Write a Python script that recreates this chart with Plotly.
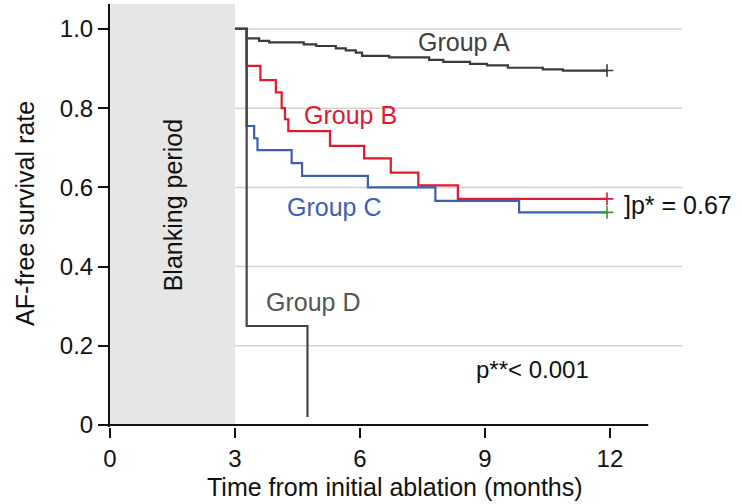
import plotly.graph_objects as go

# ---- data ----
x_ticks = [0, 3, 6, 9, 12]
y_ticks = [0, 0.2, 0.4, 0.6, 0.8, 1.0]
y_tick_text = ["0", "0.2", "0.4", "0.6", "0.8", "1.0"]
grid_vals = [0.2, 0.4, 0.6, 0.8, 1.0]

blank_start = 0
blank_end = 3

a_t = [3.0, 3.28, 3.58, 3.82, 4.65, 4.95, 5.42, 5.66, 5.90, 6.05, 6.70, 7.66, 8.00, 8.64, 9.05, 9.55, 10.39, 10.87, 11.93]
a_s = [1.0, 0.976, 0.970, 0.966, 0.961, 0.957, 0.951, 0.946, 0.940, 0.932, 0.928, 0.922, 0.917, 0.912, 0.908, 0.902, 0.898, 0.895, 0.895]

b_t = [3.0, 3.28, 3.61, 3.98, 4.12, 4.20, 4.28, 5.28, 6.10, 6.74, 7.40, 8.35, 11.93]
b_s = [1.0, 0.907, 0.871, 0.840, 0.800, 0.772, 0.742, 0.705, 0.673, 0.637, 0.605, 0.571, 0.571]

c_t = [3.0, 3.28, 3.46, 3.54, 4.36, 4.61, 6.19, 7.81, 9.82, 11.93]
c_s = [1.0, 0.755, 0.724, 0.694, 0.661, 0.629, 0.600, 0.566, 0.537, 0.537]

d_t = [3.0, 3.28, 4.74]
d_s = [1.0, 0.25, 0.02]

groups = ["Group A", "Group B", "Group C", "Group D"]
colors = ["#3a3a3a", "#e2182d", "#3d5fb3", "#444444"]
label_colors = ["#404040", "#e2182d", "#3d5fb3", "#555555"]
label_pos = [(7.35, 0.967), (4.60, 0.783), (4.20, 0.551), (3.70, 0.311)]
censor_colors = ["#3a3a3a", "#e2182d", "#2e9a3a"]

X_MAX = 13.73
X_AXIS_END = 12.92
Y_MIN, Y_MAX = -0.005, 1.063

FONT = "Liberation Sans, Arial, sans-serif"

fig = go.Figure()

series = [(a_t, a_s), (b_t, b_s), (c_t, c_s), (d_t, d_s)]
for (t, s), name, col in zip(series, groups, colors):
    fig.add_trace(go.Scatter(x=t, y=s, mode="lines", line=dict(color=col, width=2.2, shape="hv"),
                             name=name, showlegend=False, hoverinfo="skip"))

# censor marks at end of A, B, C
for (t, s), col in zip(series[:3], censor_colors):
    fig.add_trace(go.Scatter(x=[t[-1]], y=[s[-1]], mode="markers",
                             marker=dict(symbol="cross-thin", size=9, line=dict(color=col, width=1.6)),
                             showlegend=False, hoverinfo="skip"))

shapes = []
# blanking period box
shapes.append(dict(type="rect", xref="x", yref="y", x0=blank_start, x1=blank_end, y0=0, y1=Y_MAX,
                   fillcolor="#e6e6e6", line=dict(width=0), layer="below"))
# gridlines
for g in grid_vals:
    shapes.append(dict(type="line", xref="x", yref="y", x0=blank_end, x1=X_MAX, y0=g, y1=g,
                       line=dict(color="#d2d2d2", width=1.5), layer="below"))
# x axis line
shapes.append(dict(type="line", xref="x", yref="y", x0=0, x1=X_AXIS_END, y0=0, y1=0,
                   line=dict(color="#111111", width=2)))

annotations = []
for name, (lx, ly), col in zip(groups, label_pos, label_colors):
    annotations.append(dict(x=lx, y=ly, xref="x", yref="y", text=name, showarrow=False,
                            xanchor="left", yanchor="middle", font=dict(size=25, color=col, family=FONT)))
annotations.append(dict(x=8.74, y=0.139, xref="x", yref="y", text="p**< 0.001", showarrow=False,
                        xanchor="left", yanchor="middle", font=dict(size=24, color="#111111", family=FONT)))
annotations.append(dict(x=12.29, y=0.556, xref="x", yref="y", text="]p* = 0.67", showarrow=False,
                        xanchor="left", yanchor="middle", font=dict(size=25, color="#111111", family=FONT)))
annotations.append(dict(x=1.5, y=0.556, xref="x", yref="y", text="Blanking period", showarrow=False,
                        textangle=-90, xanchor="center", yanchor="middle",
                        font=dict(size=25, color="#111111", family=FONT)))
annotations.append(dict(x=0.498, y=-0.1425, xref="paper", yref="paper", text="Time from initial ablation (months)",
                        showarrow=False, xanchor="center", yanchor="middle",
                        font=dict(size=25, color="#111111", family=FONT)))
annotations.append(dict(x=-0.1486, y=0.5036, xref="paper", yref="paper", text="AF-free survival rate",
                        showarrow=False, textangle=-90, xanchor="center", yanchor="middle",
                        font=dict(size=25, color="#111111", family=FONT)))

fig.update_layout(
    width=742, height=504,
    margin=dict(l=110, r=60, t=4, b=77),
    paper_bgcolor="white", plot_bgcolor="white",
    shapes=shapes, annotations=annotations,
    font=dict(family=FONT, color="#111111"),
    xaxis=dict(range=[0, X_MAX], tickvals=x_ticks, ticktext=[str(v) for v in x_ticks],
               showgrid=False, zeroline=False, showline=False,
               ticks="outside", ticklen=10, tickwidth=2, tickcolor="#111111",
               tickfont=dict(size=24, family=FONT, color="#111111")),
    yaxis=dict(range=[Y_MIN, Y_MAX], tickvals=y_ticks, ticktext=y_tick_text,
               showgrid=False, zeroline=False, showline=True, linewidth=2, linecolor="#111111",
               ticks="outside", ticklen=10, tickwidth=2, tickcolor="#111111",
               tickfont=dict(size=24, family=FONT, color="#111111")),
)

fig.write_html("out.html")
